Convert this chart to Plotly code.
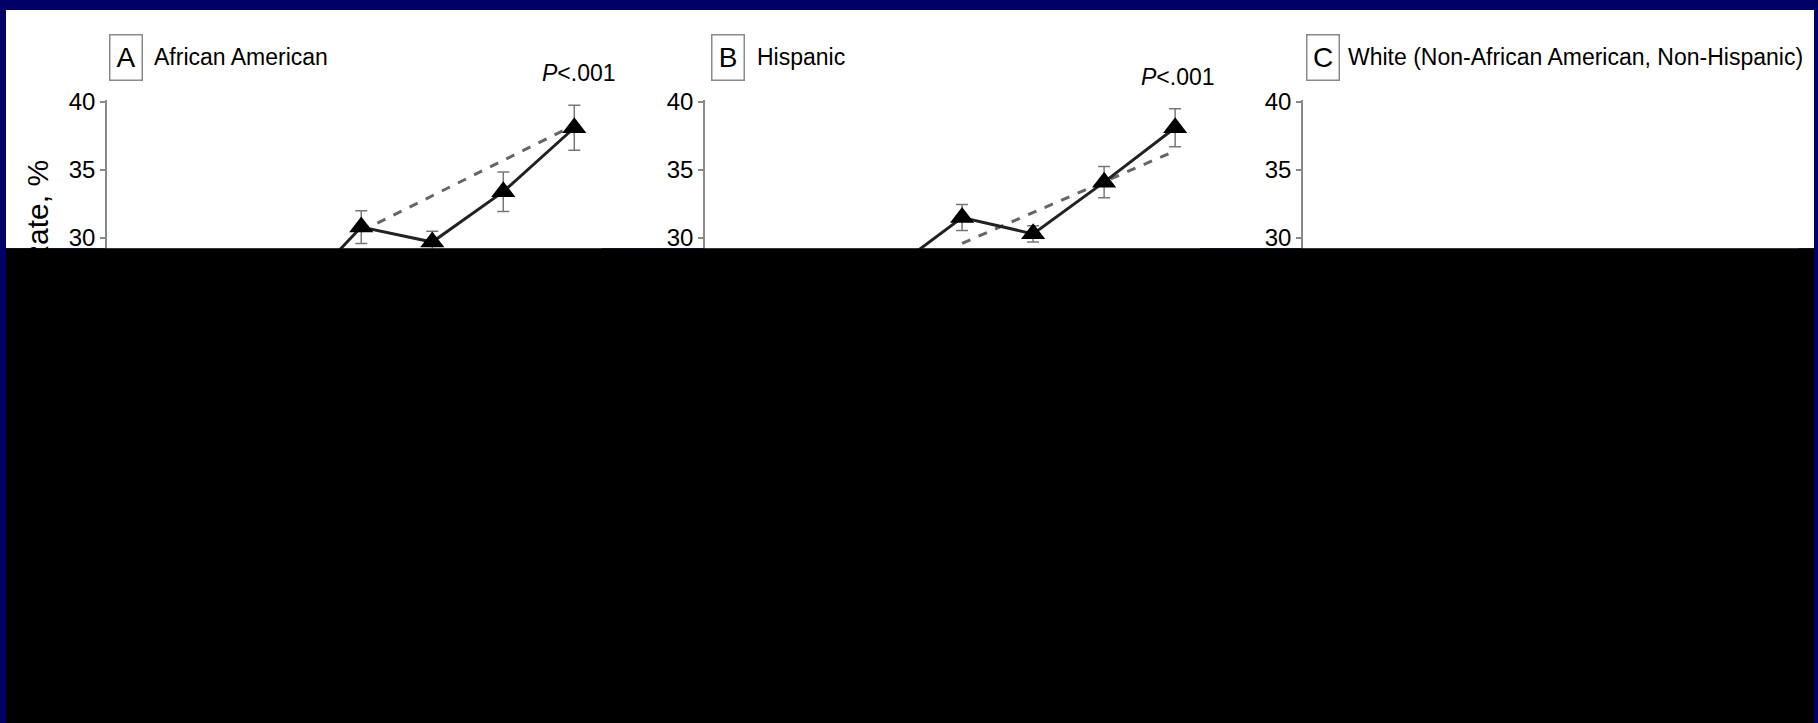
import plotly.graph_objects as go

# ---------------- data ----------------
periods = [3, 4, 5, 6, 7]                 # survey period index (earlier periods fall in the cut-off area)
aa_rate = [25.3, 30.8, 29.7, 33.4, 38.1]  # African American, observed
aa_err = [1.0, 1.2, 0.8, 1.45, 1.65]
aa_trend_x = [4, 7]
aa_trend = [30.5, 38.3]

hisp_rate = [27.6, 31.5, 30.3, 34.1, 38.1]  # Hispanic, observed
hisp_err = [1.0, 0.95, 0.6, 1.15, 1.4]
hisp_trend_x = [4, 7]
hisp_trend = [29.6, 36.4]

panel_letters = ["A", "B", "C"]
panel_titles = ["African American", "Hispanic", "White (Non-African American, Non-Hispanic)"]
p_labels = ["<i>P</i>&lt;.001", "<i>P</i>&lt;.001", ""]
y_ticks = [30, 35, 40]
y_title = "Rate, %"

# ---------------- layout helpers ----------------
W, H = 1818, 723
NAVY = "#000066"
FONT = "Liberation Sans, Arial, sans-serif"
Y_SHIFT = 9  # empirical correction of vertical placement


def fx(p):
    return p / W


def fy(p):
    return 1 - (p - Y_SHIFT) / H


y_dom = [fy(250.5), fy(98.6)]
x_doms = [(107, 602), (705, 1200), (1303, 1798)]
x_ranges = [[0.42, 7.39], [0.38, 7.35], [0.42, 7.39]]

fig = go.Figure()

series = [
    (aa_trend_x, aa_trend, periods, aa_rate, aa_err),
    (hisp_trend_x, hisp_trend, periods, hisp_rate, hisp_err),
]

for i, (tx, ty, sx, sy, se) in enumerate(series):
    xa = "x" if i == 0 else f"x{i+1}"
    ya = "y" if i == 0 else f"y{i+1}"
    fig.add_trace(go.Scatter(
        x=tx, y=ty, xaxis=xa, yaxis=ya, mode="lines",
        line=dict(color="#666666", width=3, dash="dash"),
        showlegend=False, hoverinfo="skip"))
    fig.add_trace(go.Scatter(
        x=sx, y=sy, xaxis=xa, yaxis=ya, mode="lines+markers",
        line=dict(color="#222222", width=3),
        marker=dict(symbol="triangle-up", size=21, color="black"),
        error_y=dict(type="data", array=se, visible=True,
                     color="#777777", thickness=1.5, width=6),
        showlegend=False))

# empty trace for panel C so its axes exist
fig.add_trace(go.Scatter(x=[], y=[], xaxis="x3", yaxis="y3", showlegend=False))

layout = dict(
    width=W, height=H, autosize=False,
    margin=dict(l=0, r=0, t=0, b=0),
    paper_bgcolor=NAVY, plot_bgcolor="white",
    font=dict(family=FONT, color="black"),
)

for i in range(3):
    sfx = "" if i == 0 else str(i + 1)
    x0, x1 = x_doms[i]
    layout[f"xaxis{sfx}"] = dict(
        domain=[fx(x0), fx(x1)], range=x_ranges[i],
        showline=False, showticklabels=False, showgrid=False, zeroline=False,
        anchor=f"y{sfx}")
    layout[f"yaxis{sfx}"] = dict(
        domain=y_dom, range=[29.2, 40.15], tickvals=y_ticks,
        showline=True, linecolor="#8a8a8a", linewidth=1.5,
        ticks="outside", ticklen=5, tickcolor="#8a8a8a", tickwidth=1.5,
        showgrid=False, zeroline=False,
        tickfont=dict(size=24, color="black", family=FONT),
        anchor=f"x{sfx}")

fig.update_layout(**layout)

shapes = [
    dict(type="rect", xref="paper", yref="paper", layer="below",
         x0=fx(6), x1=fx(1814), y0=fy(250), y1=fy(7),
         fillcolor="white", line=dict(width=0)),
    dict(type="rect", xref="paper", yref="paper", layer="above",
         x0=fx(6), x1=fx(1814), y0=fy(H + 20), y1=fy(250),
         fillcolor="black", line=dict(width=0)),
]

annotations = []
box_x = [125.5, 727.5, 1323]
title_x = [152, 755, 1346]
p_x = [579, 1178]
p_y = [71, 75]
for i in range(3):
    annotations.append(dict(
        xref="paper", yref="paper", x=fx(box_x[i]), y=fy(55),
        xanchor="center", yanchor="middle",
        text=panel_letters[i], showarrow=False,
        font=dict(size=28, color="black", family=FONT),
        width=31, height=44, bordercolor="#8a8a8a", borderwidth=1.5,
        borderpad=0, bgcolor="white"))
    annotations.append(dict(
        xref="paper", yref="paper", x=fx(title_x[i]), y=fy(55),
        xanchor="left", yanchor="middle",
        text=panel_titles[i], showarrow=False,
        font=dict(size=23, color="black", family=FONT)))
for i in range(2):
    annotations.append(dict(
        xref="paper", yref="paper", x=fx(p_x[i]), y=fy(p_y[i]),
        xanchor="center", yanchor="middle",
        text=p_labels[i], showarrow=False,
        font=dict(size=23, color="black", family=FONT)))

annotations.append(dict(
    xref="paper", yref="paper", x=fx(38), y=fy(158),
    xanchor="center", yanchor="top", textangle=-90,
    text=y_title, showarrow=False,
    font=dict(size=30, color="black", family=FONT)))

fig.update_layout(shapes=shapes, annotations=annotations)

fig.write_html(
    "out.html",
    config={"displayModeBar": False},
    post_script=(
        "document.documentElement.style.margin='0px';"
        "document.documentElement.style.background='" + NAVY + "';"
        "document.body.style.margin='0px';"
        "document.body.style.background='" + NAVY + "';"
        "document.body.style.overflow='hidden';"
        "var gd=document.getElementById('{plot_id}');"
        "gd.style.position='fixed';gd.style.left='0px';gd.style.top='0px';"
    ),
)
